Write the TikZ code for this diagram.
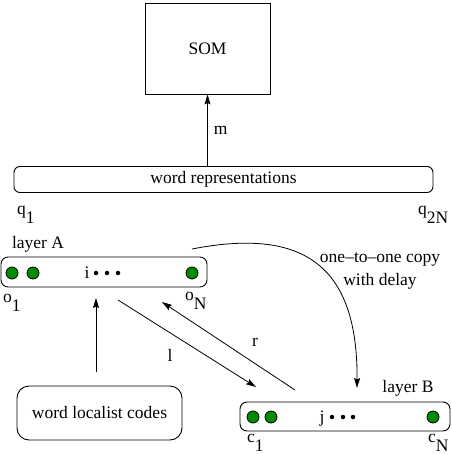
\documentclass[tikz,border=0pt]{standalone}
\usepackage{fontspec}
\setmainfont{Liberation Serif}
\usetikzlibrary{arrows.meta}
\definecolor{dotgreen}{RGB}{0,140,0}
\tikzset{
  txt/.style={font=\fontsize{17.5}{20}\selectfont, inner sep=0pt},
  box/.style={draw, line width=0.9pt, inner sep=0pt},
  rbox/.style={box, rounded corners=7pt},
  unit/.style={draw, line width=0.8pt, fill=dotgreen, circle, minimum size=12pt, inner sep=0pt},
  small/.style={fill, circle, minimum size=4.5pt, inner sep=0pt},
  sub/.style={txt, anchor=base west},
  arr/.style={line width=0.8pt, -{Stealth[length=10pt,width=6pt,inset=1.5pt]}}
}
\newcommand{\lowsub}[2]{#1\raisebox{-9pt}{#2}}
\begin{document}
\begin{tikzpicture}[x=1pt,y=-1pt]
\useasboundingbox (0,0) rectangle (451,454);
% SOM
\node[box, txt, minimum width=125pt, minimum height=91pt] (som) at (207.5,48.5) {SOM};
% word representations
\node[rbox, txt, minimum width=419pt, minimum height=26pt, rounded corners=6pt] (wr) at (223.5,179.5) {word representations};
\draw[arr] (som.south |- wr.north) -- (som.south) node[txt, midway, right=6pt] (m) {m};
\node[sub] (q1) at (17,214) {\lowsub{q}{1}};
\node[sub] (q2n) at (418,214) {\lowsub{q}{2N}};
% layer A
\node[txt] (labA) at (38,244) {layer A};
\node[rbox, minimum width=206pt, minimum height=30pt] (la) at (104,272) {};
\node[unit] (a1) at (12,273) {};
\node[unit] (a2) at (33,273) {};
\node[unit] (aN) at (192,273) {};
\node[txt, anchor=base] (i) at (87,278) {i};
\node[small] (ad1) at (96,273) {};
\node[small] (ad2) at (107,273) {};
\node[small] (ad3) at (118,273) {};
\node[sub] (o1) at (3,302) {\lowsub{o}{1}};
\node[sub] (oN) at (185,300) {\lowsub{o}{N}};
% layer B
\node[txt] (labB) at (408,388) {layer B};
\node[rbox, minimum width=210pt, minimum height=29pt] (lb) at (345,416.5) {};
\node[unit] (b1) at (253,417) {};
\node[unit] (b2) at (271,417) {};
\node[unit] (bN) at (433,417) {};
\node[txt, anchor=base] (j) at (322,422) {j};
\node[small] (bd1) at (332,417) {};
\node[small] (bd2) at (343,417) {};
\node[small] (bd3) at (353,417) {};
\node[sub] (c1) at (247,442) {\lowsub{c}{1}};
\node[sub] (cN) at (428,442) {\lowsub{c}{N}};
% word localist codes
\node[box, txt, rounded corners=12pt, minimum width=165pt, minimum height=54pt] (wl) at (99.5,413) {word localist codes};
% connectors
\coordinate (wlTop) at (96,372);
\coordinate (laIn) at (96,298);
\draw[arr] (wlTop) -- (laIn);
\coordinate (lStart) at (118,300);
\coordinate (lEnd) at (256,387);
\draw[arr] (lStart) -- (lEnd);
\node[txt] (l) at (170,355) {l};
\coordinate (rStart) at (295,390);
\coordinate (rEnd) at (162,302);
\draw[arr] (rStart) -- (rEnd);
\node[txt] (r) at (255,342) {r};
\coordinate (cStart) at (192,249);
\coordinate (cEnd) at (357,388);
\draw[arr] (cStart) .. controls (300,228) and (358,262) .. (cEnd);
\node[txt, align=center] (copy) at (380,271) {one–to–one copy\\[3pt]with delay};
\end{tikzpicture}
\end{document}
